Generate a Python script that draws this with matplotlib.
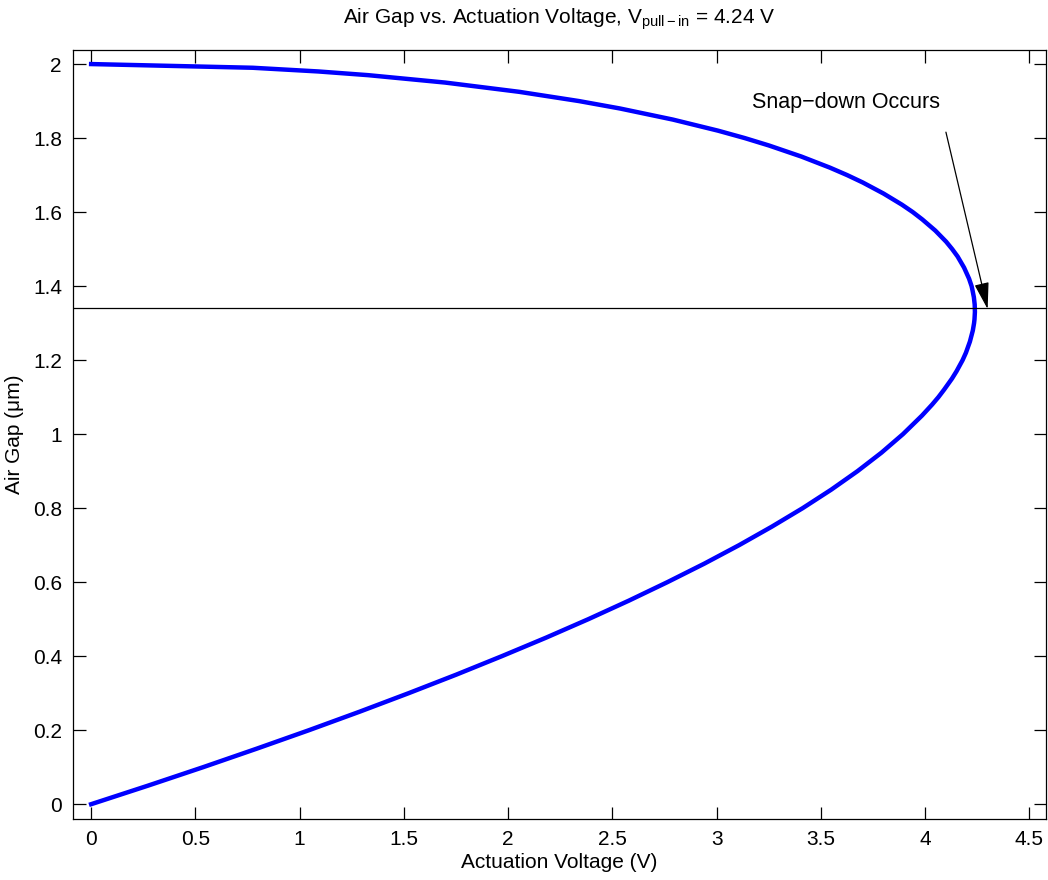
import matplotlib
matplotlib.use('Agg')
import matplotlib.pyplot as plt

# 数据: 气隙 (um) 与驱动电压 (V)
gap = [0.0, 0.05, 0.1, 0.15, 0.2, 0.25, 0.3, 0.35, 0.4, 0.45, 0.5, 0.55, 0.6, 0.65,
       0.7, 0.75, 0.8, 0.85, 0.9, 0.95, 1.0, 1.05, 1.08, 1.1, 1.12, 1.15, 1.17, 1.2,
       1.22, 1.25, 1.28, 1.3, 1.31, 1.33, 1.35, 1.37, 1.39, 1.4, 1.42, 1.45, 1.48,
       1.5, 1.52, 1.55, 1.58, 1.6, 1.62, 1.65, 1.68, 1.7, 1.72, 1.75, 1.78, 1.8,
       1.82, 1.85, 1.88, 1.9, 1.925, 1.95, 1.97, 1.98, 1.99, 2.0]
voltage = [0.0, 0.272, 0.537, 0.794, 1.045, 1.288, 1.523, 1.751, 1.970, 2.182, 2.385,
           2.579, 2.764, 2.941, 3.108, 3.265, 3.413, 3.550, 3.676, 3.791, 3.894, 3.985,
           4.034, 4.064, 4.091, 4.129, 4.151, 4.180, 4.196, 4.215, 4.229, 4.235, 4.237,
           4.239, 4.238, 4.234, 4.227, 4.223, 4.211, 4.187, 4.156, 4.130, 4.101, 4.049,
           3.987, 3.941, 3.889, 3.801, 3.701, 3.626, 3.544, 3.407, 3.251, 3.135, 3.007,
           2.790, 2.536, 2.340, 2.053, 1.698, 1.329, 1.090, 0.775, 0.0]
v_pull_in = 4.24
gap_pull_in = 1.34
xticks = [0, 0.5, 1, 1.5, 2, 2.5, 3, 3.5, 4, 4.5]
yticks = [0, 0.2, 0.4, 0.6, 0.8, 1, 1.2, 1.4, 1.6, 1.8, 2]

plt.rcParams['font.family'] = ['Liberation Sans', 'DejaVu Sans']
plt.rcParams['font.size'] = 15
plt.rcParams['mathtext.fontset'] = 'custom'
plt.rcParams['mathtext.rm'] = 'Liberation Sans'
plt.rcParams['mathtext.it'] = 'Liberation Sans'

fig = plt.figure(figsize=(10.48, 8.8), dpi=100)
ax = fig.add_axes([73 / 1048, 1 - 819 / 880, (1046 - 73) / 1048, (819 - 50) / 880])

ax.plot(voltage, gap, color='#0000ff', lw=3.2)
ax.axhline(gap_pull_in, color='black', lw=0.9)

# 注释文字与箭头
ax.text(3.62, 1.895, 'Snap\u2212down Occurs', ha='center', va='center', fontsize=15.5)
ax.annotate('', xy=(4.30, 1.338), xytext=(4.10, 1.816),
            arrowprops=dict(arrowstyle='-|>,head_length=1.1,head_width=0.3',
                            color='black', lw=0.9, shrinkA=0, shrinkB=0))

ax.set_xlim(-0.087, 4.58)
ax.set_ylim(-0.04, 2.038)
ax.set_xticks(xticks)
ax.set_xticklabels(['0', '0.5', '1', '1.5', '2', '2.5', '3', '3.5', '4', '4.5'])
ax.set_yticks(yticks)
ax.set_yticklabels(['0', '0.2', '0.4', '0.6', '0.8', '1', '1.2', '1.4', '1.6', '1.8', '2'])
ax.tick_params(direction='in', length=9, width=0.9, top=True, right=True,
               labelsize=15, pad=8)
for s in ax.spines.values():
    s.set_linewidth(0.9)

ax.set_xlabel('Actuation Voltage (V)', fontsize=15, labelpad=3)
ax.set_ylabel('Air Gap (\u03bcm)', fontsize=15, labelpad=6)
ax.set_title('Air Gap vs. Actuation Voltage, V$_{\\mathrm{pull\u2212in}}$ = 4.24 V',
             fontsize=15, pad=19)

plt.savefig('out.png', dpi=100)
